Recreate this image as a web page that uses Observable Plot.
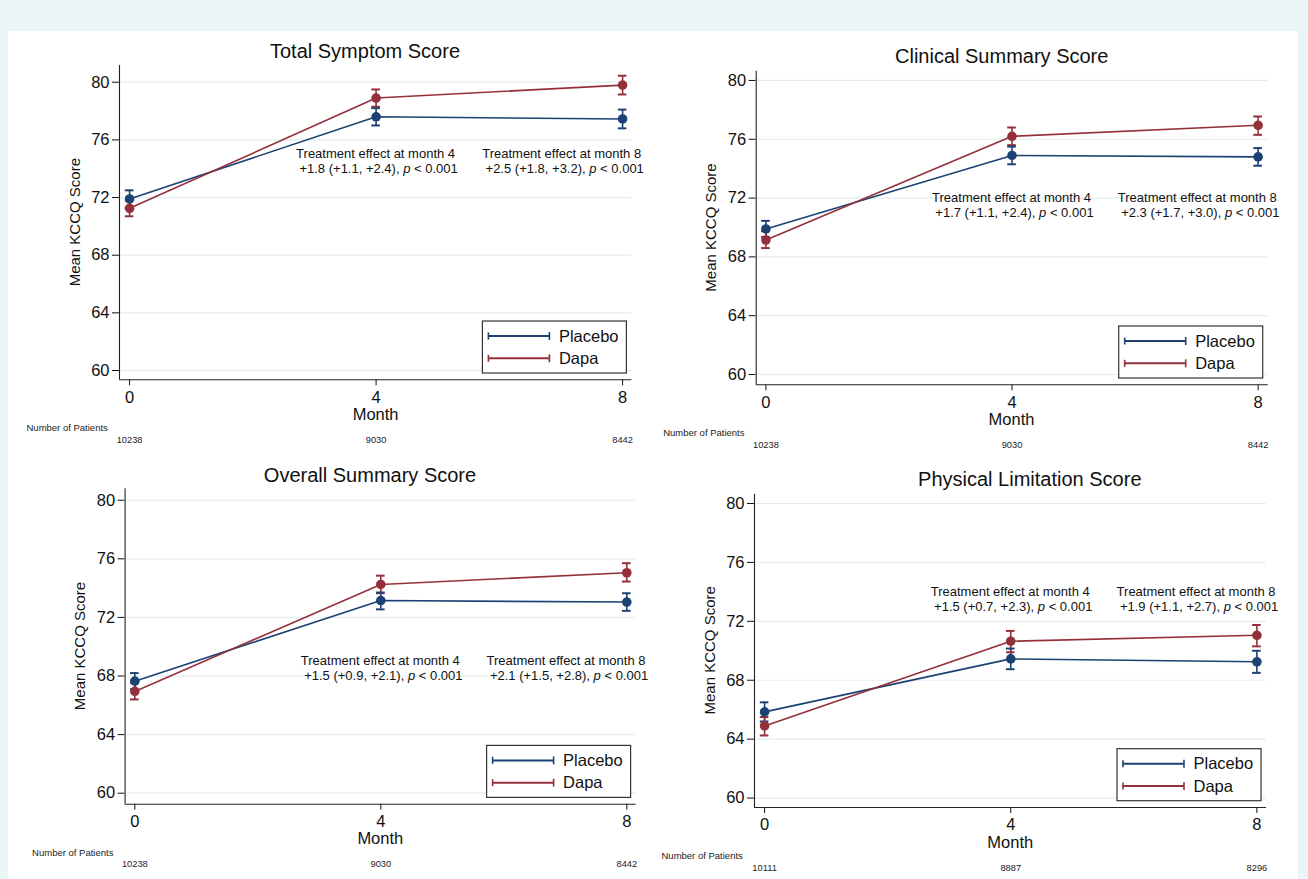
<!DOCTYPE html>
<html>
<head>
<meta charset="utf-8">
<script src="https://cdn.jsdelivr.net/npm/d3@7"></script>
<script src="https://cdn.jsdelivr.net/npm/@observablehq/plot@0.6"></script>
<style>
  html, body { margin: 0; padding: 0; }
  body { width: 1308px; height: 879px; overflow: hidden; background: #eaf5f8; position: relative;
         font-family: "Liberation Sans", Arial, Helvetica, sans-serif; }
  #sheet { position: absolute; left: 8px; top: 31px; width: 1290px; height: 848px; background: #ffffff; }
  svg.panel { position: absolute; overflow: visible; }
</style>
</head>
<body>
<div id="sheet"></div>
<script>
// ---------------- data ----------------
const months = [0, 4, 8];
const groups = ["Placebo", "Dapa"];
const yTicks = [60, 64, 68, 72, 76, 80];
const panelTitles = ["Total Symptom Score", "Clinical Summary Score", "Overall Summary Score", "Physical Limitation Score"];

// Total Symptom Score
const tssPlacebo   = [71.9, 77.6, 77.45];
const tssPlaceboLo = [71.3, 77.0, 76.8];
const tssPlaceboHi = [72.5, 78.2, 78.1];
const tssDapa      = [71.25, 78.9, 79.8];
const tssDapaLo    = [70.7, 78.3, 79.15];
const tssDapaHi    = [71.8, 79.5, 80.45];
const tssEffect4 = "+1.8 (+1.1, +2.4)";
const tssEffect8 = "+2.5 (+1.8, +3.2)";
const tssCounts = [10238, 9030, 8442];

// Clinical Summary Score
const cssPlacebo   = [69.9, 74.9, 74.8];
const cssPlaceboLo = [69.35, 74.3, 74.2];
const cssPlaceboHi = [70.45, 75.5, 75.4];
const cssDapa      = [69.15, 76.2, 76.95];
const cssDapaLo    = [68.6, 75.6, 76.3];
const cssDapaHi    = [69.75, 76.8, 77.55];
const cssEffect4 = "+1.7 (+1.1, +2.4)";
const cssEffect8 = "+2.3 (+1.7, +3.0)";
const cssCounts = [10238, 9030, 8442];

// Overall Summary Score
const ossPlacebo   = [67.65, 73.15, 73.05];
const ossPlaceboLo = [67.1, 72.55, 72.45];
const ossPlaceboHi = [68.2, 73.7, 73.65];
const ossDapa      = [66.95, 74.25, 75.05];
const ossDapaLo    = [66.4, 73.65, 74.45];
const ossDapaHi    = [67.55, 74.85, 75.7];
const ossEffect4 = "+1.5 (+0.9, +2.1)";
const ossEffect8 = "+2.1 (+1.5, +2.8)";
const ossCounts = [10238, 9030, 8442];

// Physical Limitation Score
const plsPlacebo   = [65.85, 69.45, 69.25];
const plsPlaceboLo = [65.2, 68.75, 68.5];
const plsPlaceboHi = [66.5, 70.15, 70.0];
const plsDapa      = [64.9, 70.65, 71.05];
const plsDapaLo    = [64.25, 69.9, 70.3];
const plsDapaHi    = [65.5, 71.35, 71.75];
const plsEffect4 = "+1.5 (+0.7, +2.3)";
const plsEffect8 = "+1.9 (+1.1, +2.7)";
const plsCounts = [10111, 8887, 8296];

const pValueText = "< 0.001";

// ---------------- styling / layout ----------------
const FONT = '"Liberation Sans", Arial, Helvetica, sans-serif';
const colors = { Placebo: "#1c4274", Dapa: "#94303a" };
const gridColor = "#e2edf2";
const axisColor = "#222222";
const textColor = "#111111";

// page-pixel layout of each panel (svg origin, frame edges) and domains
const layouts = [
  { ox: 8,   oy: 31,  left: 119,   right: 631.4,  top: 65,    bottom: 379.3, xDom: [-0.164, 8.151], yDom: [59.355, 81.16], title: [365, 50.7],   annotY: [75, 74] },
  { ox: 653, oy: 31,  left: 755.7, right: 1267.7, top: 70.7,  bottom: 384.3, xDom: [-0.158, 8.164], yDom: [59.3, 80.63],   title: [1001.7, 56],  annotY: [72, 71] },
  { ox: 8,   oy: 455, left: 124.6, right: 635.6,  top: 488.3, bottom: 803.7, xDom: [-0.158, 8.151], yDom: [59.25, 80.78],  title: [370, 475],    annotY: [69, 68] },
  { ox: 653, oy: 455, left: 754,   right: 1266,   top: 493.7, bottom: 807,   xDom: [-0.164, 8.156], yDom: [59.36, 80.63],  title: [1029.8, 479], annotY: [74, 73] }
];
const SVG_W = 645, SVG_H = 424;

const panelData = [
  { placebo: [tssPlacebo, tssPlaceboLo, tssPlaceboHi], dapa: [tssDapa, tssDapaLo, tssDapaHi], effects: [tssEffect4, tssEffect8], counts: tssCounts },
  { placebo: [cssPlacebo, cssPlaceboLo, cssPlaceboHi], dapa: [cssDapa, cssDapaLo, cssDapaHi], effects: [cssEffect4, cssEffect8], counts: cssCounts },
  { placebo: [ossPlacebo, ossPlaceboLo, ossPlaceboHi], dapa: [ossDapa, ossDapaLo, ossDapaHi], effects: [ossEffect4, ossEffect8], counts: ossCounts },
  { placebo: [plsPlacebo, plsPlaceboLo, plsPlaceboHi], dapa: [plsDapa, plsDapaLo, plsDapaHi], effects: [plsEffect4, plsEffect8], counts: plsCounts }
];

const sheet = document.body;

panelData.forEach((pd, k) => {
  const L = layouts[k];
  const rows = [];
  groups.forEach(g => {
    const [mean, lo, hi] = g === "Placebo" ? pd.placebo : pd.dapa;
    months.forEach((m, i) => rows.push({ month: m, group: g, mean: mean[i], lo: lo[i], hi: hi[i] }));
  });
  const capHalf = 0.07;

  const chart = Plot.plot({
    width: SVG_W,
    height: SVG_H,
    marginLeft: L.left - L.ox,
    marginRight: L.ox + SVG_W - L.right,
    marginTop: L.top - L.oy,
    marginBottom: L.oy + SVG_H - L.bottom,
    style: { fontFamily: FONT, fontSize: "16.5px", color: textColor, background: "transparent", overflow: "visible" },
    x: { domain: L.xDom, ticks: months, tickSize: 6, tickPadding: 5, tickFormat: d => String(d), label: null },
    y: { domain: L.yDom, ticks: yTicks, tickSize: 7, tickPadding: 3, tickFormat: d => String(d), label: null },
    color: { domain: groups, range: [colors.Placebo, colors.Dapa] },
    marks: [
      Plot.ruleY(yTicks, { stroke: gridColor, strokeWidth: 1.2 }),
      Plot.ruleX([L.xDom[0]], { stroke: axisColor, strokeWidth: 1.1 }),
      Plot.ruleY([L.yDom[0]], { stroke: axisColor, strokeWidth: 1.1 }),
      Plot.line(rows, { x: "month", y: "mean", z: "group", stroke: "group", strokeWidth: 1.6 }),
      Plot.ruleX(rows, { x: "month", y1: "lo", y2: "hi", stroke: "group", strokeWidth: 1.6 }),
      Plot.ruleY(rows, { y: "lo", x1: d => d.month - capHalf, x2: d => d.month + capHalf, stroke: "group", strokeWidth: 2 }),
      Plot.ruleY(rows, { y: "hi", x1: d => d.month - capHalf, x2: d => d.month + capHalf, stroke: "group", strokeWidth: 2 }),
      Plot.dot(rows, { x: "month", y: "mean", r: 4.8, fill: "group", stroke: "none" }),
      // patient counts under each month
      Plot.text(months.map((m, i) => ({ month: m, n: pd.counts[i] })), {
        x: "month", text: d => String(d.n), frameAnchor: "bottom", dy: 63, fontSize: 9.3, fill: "#222"
      })
    ]
  });

  chart.setAttribute("class", (chart.getAttribute("class") || "") + " panel");
  chart.style.left = L.ox + "px";
  chart.style.top = L.oy + "px";
  sheet.appendChild(chart);

  const svg = d3.select(chart);
  const xs = chart.scale("x"), ys = chart.scale("y");
  const X = v => xs.apply(v), Y = v => ys.apply(v);
  const fx0 = L.left - L.ox, fx1 = L.right - L.ox, fy0 = L.top - L.oy, fy1 = L.bottom - L.oy;
  const g = svg.append("g").attr("font-family", FONT).attr("fill", textColor);

  // title
  g.append("text").attr("x", L.title[0] - L.ox).attr("y", L.title[1] - L.oy).attr("dy", "0.35em")
    .attr("text-anchor", "middle").attr("font-size", 20).text(panelTitles[k]);
  // y label
  g.append("text")
    .attr("transform", `translate(${fx0 - 44.5},${(fy0 + fy1) / 2}) rotate(-90)`)
    .attr("dy", "0.35em").attr("text-anchor", "middle").attr("font-size", 15).text("Mean KCCQ Score");
  // x label
  g.append("text").attr("x", X(4)).attr("y", fy1 + 35).attr("dy", "0.35em")
    .attr("text-anchor", "middle").attr("font-size", 16.5).text("Month");
  // number of patients
  g.append("text").attr("x", fx0 - 92.5).attr("y", fy1 + 48.7).attr("dy", "0.35em")
    .attr("text-anchor", "start").attr("font-size", 9.5).attr("fill", "#222").text("Number of Patients");

  // treatment-effect annotations
  [[4, "Treatment effect at month 4", pd.effects[0], 4.0], [8, "Treatment effect at month 8", pd.effects[1], 7.02]]
    .forEach(([m, head, eff, xc]) => {
      g.append("text").attr("x", X(xc)).attr("y", Y(L.annotY[0])).attr("dy", "0.35em")
        .attr("text-anchor", "middle").attr("font-size", 13).text(head);
      const t = g.append("text").attr("x", X(xc) + 3).attr("y", Y(L.annotY[1])).attr("dy", "0.35em")
        .attr("text-anchor", "middle").attr("font-size", 13);
      t.append("tspan").text(eff + ", ");
      t.append("tspan").attr("font-style", "italic").text("p");
      t.append("tspan").text(" " + pValueText);
    });

  // legend (inside, bottom right)
  const bw = 144, bh = 52;
  const bx = fx1 - 5 - bw, by = fy1 - 6.3 - bh;
  const lg = g.append("g").attr("transform", `translate(${bx},${by})`);
  lg.append("rect").attr("x", 0).attr("y", 0).attr("width", bw).attr("height", bh)
    .attr("fill", "#fff").attr("stroke", "#333").attr("stroke-width", 1.2);
  groups.forEach((grp, i) => {
    const yy = 15 + i * 22.3;
    const c = colors[grp];
    lg.append("line").attr("x1", 6).attr("x2", 67).attr("y1", yy).attr("y2", yy).attr("stroke", c).attr("stroke-width", 2);
    lg.append("line").attr("x1", 6).attr("x2", 6).attr("y1", yy - 3.5).attr("y2", yy + 3.5).attr("stroke", c).attr("stroke-width", 1.6);
    lg.append("line").attr("x1", 67).attr("x2", 67).attr("y1", yy - 4).attr("y2", yy + 4).attr("stroke", c).attr("stroke-width", 1.6);
    lg.append("text").attr("x", 76.5).attr("y", yy).attr("dy", "0.35em")
      .attr("text-anchor", "start").attr("font-size", 16.5).text(grp);
  });
});
</script>
</body>
</html>
